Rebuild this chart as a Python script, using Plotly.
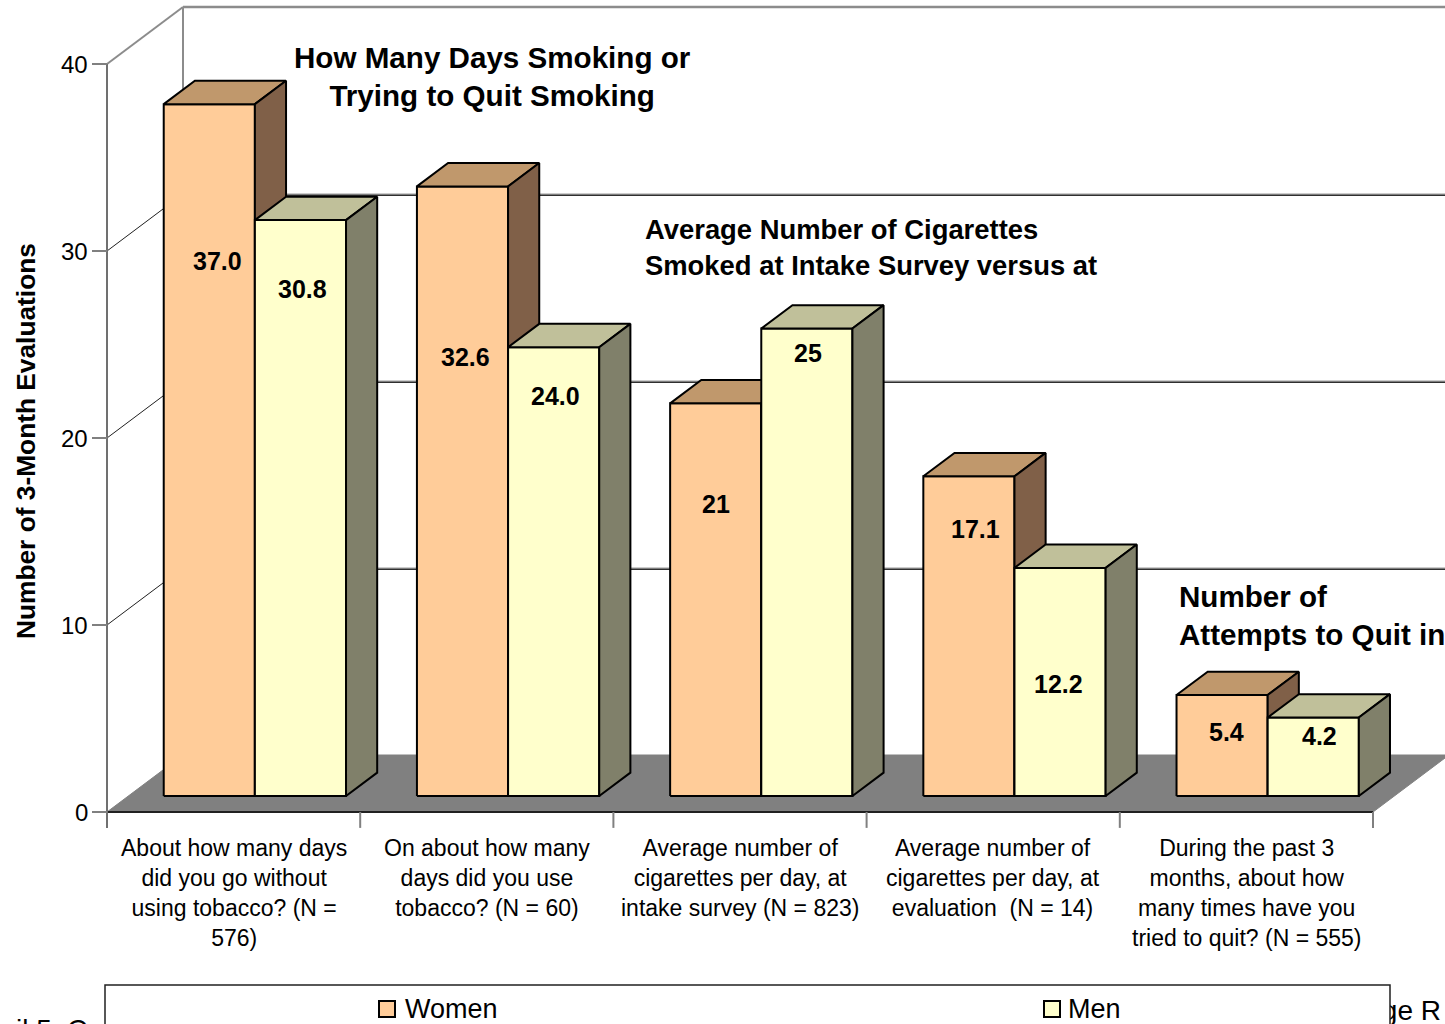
import plotly.graph_objects as go

# ---------------- data ----------------
categories = [
    "About how many days<br>did you go without<br>using tobacco? (N =<br>576)",
    "On about how many<br>days did you use<br>tobacco? (N = 60)",
    "Average number of<br>cigarettes per day, at<br>intake survey (N = 823)",
    "Average number of<br>cigarettes per day, at<br>evaluation  (N = 14)",
    "During the past 3<br>months, about how<br>many times have you<br>tried to quit? (N = 555)",
]
women = [37.0, 32.6, 21, 17.1, 5.4]
men = [30.8, 24.0, 25, 12.2, 4.2]
women_labels = ["37.0", "32.6", "21", "17.1", "5.4"]
men_labels = ["30.8", "24.0", "25", "12.2", "4.2"]
# height (in value units, measured up the bar) at which each data label sits
women_label_at = [28.6, 23.5, 15.6, 14.3, 3.4]
men_label_at = [27.1, 21.4, 23.7, 6.0, 3.2]
# small horizontal nudges of the data labels (pixels)
women_label_dx = [8, 3, 0, 7, 4]
men_label_dx = [2, 2, 1, -2, 6]
y_ticks = [0, 10, 20, 30, 40]
y_title = "Number of 3-Month Evaluations"
series_names = ["Women", "Men"]

# ---------------- geometry / style ----------------
W, H = 1445, 1024
X0PX, PXW = 107, 253.2        # pixel of category 0 front edge, px per category
Y0PX, PYS = 812, 18.7         # pixel of value 0 on front plane, px per unit
DX, DY = 76 / PXW, 57 / PYS   # full depth offset in data units
F1, F2 = 0.28, 0.69           # bar front / back depth fractions
GAP, BW = 0.14, 0.36          # gap before first bar, bar width (category units)
FONT = "Liberation Sans, Arial, sans-serif"

face_colors = [
    dict(front="#FFCC99", top="#C0986C", side="#806048"),
    dict(front="#FFFFCC", top="#C0C09A", side="#80806A"),
]


def P(cx, v, d):
    return cx + d * DX, v + d * DY


def px2x(px):
    return (px - X0PX) / PXW


def py2y(py):
    return (Y0PX - py) / PYS


fig = go.Figure()


def poly(pts, fill, line_color="black", width=2):
    xs = [p[0] for p in pts] + [pts[0][0]]
    ys = [p[1] for p in pts] + [pts[0][1]]
    fig.add_trace(go.Scatter(x=xs, y=ys, mode="lines", fill="toself",
                             fillcolor=fill,
                             line=dict(color=line_color, width=width),
                             hoverinfo="skip", showlegend=False))


def seg(pts, color, width):
    fig.add_trace(go.Scatter(x=[p[0] for p in pts], y=[p[1] for p in pts],
                             mode="lines", line=dict(color=color, width=width),
                             hoverinfo="skip", showlegend=False))


ncat = len(categories)
vmax = max(y_ticks)

# floor
poly([P(0, 0, 0), P(0, 0, 1), P(ncat, 0, 1), P(ncat, 0, 0)], "#808080",
     line_color="#808080", width=1)
seg([P(0, 0, 0), P(ncat, 0, 0)], "#202020", 2)

# back wall gridlines + side wall lines
for v in y_ticks[1:]:
    if v == vmax:
        seg([P(0, v, 1), P(ncat + 0.5, v, 1)], "#8C8C8C", 2.5)
        seg([P(0, v, 0), P(0, v, 1)], "#8C8C8C", 2)
    else:
        seg([P(0, v, 1), P(ncat + 0.5, v, 1)], "#9A9A9A", 1)
        seg([P(0, v, 1 - 0.02), P(ncat + 0.5, v, 1 - 0.02)], "#303030", 1.5)
        seg([P(0, v, 0), P(0, v, 1)], "#202020", 1)
seg([P(0, 0, 1), P(0, vmax, 1)], "#8C8C8C", 2)

# front axis line + ticks
seg([(0, -0.85), (0, vmax)], "#707070", 2)
for v in y_ticks:
    seg([(px2x(92), v), (0, v)], "#808080", 2)
for i in range(1, ncat + 1):
    seg([(i, 0), (i, -0.85)], "#808080", 2)

# bars
for i in range(ncat):
    for s, vals in enumerate([women, men]):
        v = vals[i]
        l = i + GAP + s * BW
        r = l + BW
        c = face_colors[s]
        poly([P(l, 0, F1), P(r, 0, F1), P(r, v, F1), P(l, v, F1)], c["front"])
        poly([P(l, v, F1), P(r, v, F1), P(r, v, F2), P(l, v, F2)], c["top"])
        poly([P(r, 0, F1), P(r, 0, F2), P(r, v, F2), P(r, v, F1)], c["side"])

annotations = []

# data labels
for i in range(ncat):
    for s, (labs, at, ddx) in enumerate([(women_labels, women_label_at, women_label_dx),
                                         (men_labels, men_label_at, men_label_dx)]):
        l = i + GAP + s * BW
        x, y = P(l + BW / 2 + ddx[i] / PXW, at[i], F1)
        annotations.append(dict(x=x, y=y, xref="x", yref="y", text=labs[i],
                                showarrow=False,
                                font=dict(family=FONT, size=25, color="black",
                                          weight="bold")))

# y tick labels
for v in y_ticks:
    annotations.append(dict(x=px2x(90), y=v, xref="x", yref="y", text=str(v),
                            xanchor="right", showarrow=False,
                            font=dict(family=FONT, size=24, color="black")))

# category labels
for i, cat in enumerate(categories):
    annotations.append(dict(x=i + 0.5, y=py2y(833), xref="x", yref="y",
                            text=cat, xanchor="center", yanchor="top",
                            showarrow=False, align="center",
                            font=dict(family=FONT, size=23, color="black")))

# y-axis title
annotations.append(dict(x=px2x(26), y=py2y(441), xref="x", yref="y",
                        text=y_title, textangle=-90, showarrow=False,
                        font=dict(family=FONT, size=26.3, color="black",
                                  weight="bold")))

# in-chart titles
titles = [
    ("How Many Days Smoking or<br>Trying to Quit Smoking", 492, 39, "center", 29.6),
    ("Average Number of Cigarettes<br>Smoked at Intake Survey versus at", 643, 212, "left", 27.4),
    ("Number of<br>Attempts to Quit in", 1177, 578, "left", 29.6),
]
for txt, xp, yp, al, fs in titles:
    annotations.append(dict(x=px2x(xp), y=py2y(yp), xref="x", yref="y",
                            text=txt, xanchor=al, yanchor="top", align=al,
                            showarrow=False,
                            font=dict(family=FONT, size=fs, color="black",
                                      weight="bold")))

# background document text fragments (partly hidden by legend box)
fig.add_trace(go.Scatter(x=[px2x(16)], y=[py2y(1032)], mode="text",
                         text=["il 5. C"], textposition="middle right",
                         textfont=dict(family=FONT, size=28, color="black"),
                         hoverinfo="skip", showlegend=False))
fig.add_trace(go.Scatter(x=[px2x(1441)], y=[py2y(1013)], mode="text",
                         text=["ge R"], textposition="middle left",
                         textfont=dict(family=FONT, size=28, color="black"),
                         hoverinfo="skip", showlegend=False))

# legend (manual)
shapes = [
    dict(type="rect", xref="x", yref="y", layer="above",
         x0=px2x(105), x1=px2x(1390), y0=py2y(985), y1=py2y(1040),
         fillcolor="white", line=dict(color="#202020", width=1.5)),
]
leg_pos = [(379, 405), (1044, 1068)]
for s, name in enumerate(series_names):
    sx, tx = leg_pos[s]
    shapes.append(dict(type="rect", xref="x", yref="y", layer="above",
                       x0=px2x(sx), x1=px2x(sx + 16),
                       y0=py2y(1001), y1=py2y(1017),
                       fillcolor=face_colors[s]["front"],
                       line=dict(color="black", width=2)))
    annotations.append(dict(x=px2x(tx - 2), y=py2y(1009), xref="x", yref="y",
                            text=name, xanchor="left", showarrow=False,
                            font=dict(family=FONT, size=27, color="black")))

fig.update_layout(
    width=W, height=H, autosize=False,
    margin=dict(l=0, r=0, t=0, b=0, pad=0),
    paper_bgcolor="white", plot_bgcolor="white",
    showlegend=False,
    xaxis=dict(range=[px2x(0), px2x(W)], visible=False, fixedrange=True),
    yaxis=dict(range=[py2y(H), py2y(0)], visible=False, fixedrange=True),
    annotations=annotations, shapes=shapes,
)

fig.write_html("out.html")
